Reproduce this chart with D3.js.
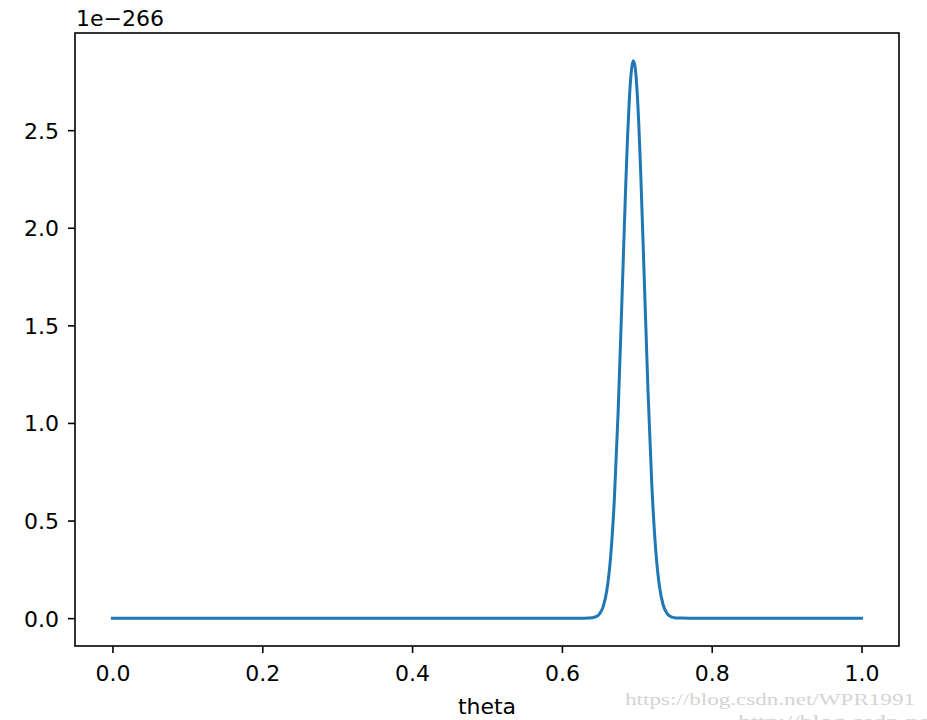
<!DOCTYPE html>
<html>
<head>
<meta charset="utf-8">
<script src="https://cdn.jsdelivr.net/npm/d3@7"></script>
<style>
  html, body { margin: 0; padding: 0; background: #fff; }
  svg { display: block; }
  text { font-family: "DejaVu Sans", sans-serif; }
</style>
</head>
<body>
<svg id="chart" width="927" height="720"></svg>
<script>
// ---- data (y in units of 1e-266) ----
const theta = [0.0, 0.1, 0.2, 0.3, 0.4, 0.5, 0.6, 0.62, 0.63, 0.635, 0.64, 0.645, 0.65, 0.655, 0.66, 0.665, 0.67, 0.675,
  0.68, 0.685, 0.6875, 0.69, 0.6925, 0.695, 0.6975, 0.70, 0.7025, 0.705, 0.71, 0.715, 0.72, 0.725, 0.73, 0.735,
  0.74, 0.745, 0.75, 0.755, 0.76, 0.77, 0.8, 0.9, 1.0];
const likelihood = [0, 0, 0, 0, 0, 0, 0, 0, 0.00002, 0.0002, 0.0019, 0.0066, 0.0208, 0.0578, 0.1426, 0.3127, 0.6086, 1.051,
  1.613, 2.197, 2.453, 2.658, 2.795, 2.855, 2.829, 2.722, 2.542, 2.304, 1.732, 1.156, 0.685, 0.361, 0.1685, 0.0699,
  0.0257, 0.0084, 0.0024, 0.0006, 0.00015, 0.00001, 0, 0, 0];
const xTicks = [0.0, 0.2, 0.4, 0.6, 0.8, 1.0];
const yTicks = [0.0, 0.5, 1.0, 1.5, 2.0, 2.5];
const xLabel = "theta";
const offsetLabel = "1e\u2212266";
const watermark1 = "https://blog.csdn.net/WPR1991";
const watermark2 = "http://blog.csdn.net/u0";

(function () {
  // ---- layout ----
  const svg = d3.select("#chart");
  const mLeft = 75, mRight = 899, mTop = 33, mBottom = 646;
  const fs = "22px";

  const yMax = d3.max(likelihood);
  const x = d3.scaleLinear().domain([-0.05, 1.05]).range([mLeft, mRight]);
  const y = d3.scaleLinear().domain([-0.05 * yMax, 1.05 * yMax]).range([mBottom, mTop]);

  // line
  const data = theta.map((t, i) => ({ t, v: likelihood[i] }));
  svg.append("path")
    .datum(data)
    .attr("fill", "none")
    .attr("stroke", "#1f77b4")
    .attr("stroke-width", 3)
    .attr("stroke-linejoin", "round")
    .attr("stroke-linecap", "square")
    .attr("d", d3.line().x(d => x(d.t)).y(d => y(d.v)).curve(d3.curveMonotoneX));

  // axes
  const xAxis = d3.axisBottom(x).tickValues(xTicks).tickFormat(d3.format(".1f")).tickSize(7).tickPadding(12);
  const yAxis = d3.axisLeft(y).tickValues(yTicks).tickFormat(d3.format(".1f")).tickSize(7).tickPadding(9);

  const gx = svg.append("g").attr("transform", `translate(0,${mBottom})`).call(xAxis);
  const gy = svg.append("g").attr("transform", `translate(${mLeft},0)`).call(yAxis);
  [gx, gy].forEach(g => {
    g.select(".domain").remove();
    g.selectAll(".tick line").attr("stroke", "#000").attr("stroke-width", 1.6);
    g.selectAll(".tick text").attr("fill", "#000").style("font-size", fs).style("font-family", "DejaVu Sans, sans-serif");
  });
  gy.selectAll(".tick text").attr("dy", "0.36em");

  // frame
  svg.append("rect")
    .attr("x", mLeft).attr("y", mTop)
    .attr("width", mRight - mLeft).attr("height", mBottom - mTop)
    .attr("fill", "none").attr("stroke", "#000").attr("stroke-width", 1.6);

  // axis label
  svg.append("text")
    .attr("x", (mLeft + mRight) / 2).attr("y", 714)
    .attr("text-anchor", "middle")
    .style("font-size", fs)
    .attr("fill", "#000")
    .text(xLabel);

  // offset text
  svg.append("text")
    .attr("x", mLeft + 1).attr("y", 26)
    .style("font-size", fs)
    .attr("fill", "#000")
    .text(offsetLabel);

  // watermark
  svg.append("text")
    .attr("x", 625).attr("y", 705)
    .attr("textLength", 290).attr("lengthAdjust", "spacingAndGlyphs")
    .style("font-family", "Liberation Serif, DejaVu Serif, serif")
    .style("font-size", "17px")
    .attr("fill", "#d4d4d4")
    .text(watermark1);
  svg.append("text")
    .attr("x", 738).attr("y", 727)
    .attr("textLength", 232).attr("lengthAdjust", "spacingAndGlyphs")
    .style("font-family", "Liberation Serif, DejaVu Serif, serif")
    .style("font-size", "17px")
    .attr("fill", "#d4d4d4")
    .text(watermark2);
})();
</script>
</body>
</html>
